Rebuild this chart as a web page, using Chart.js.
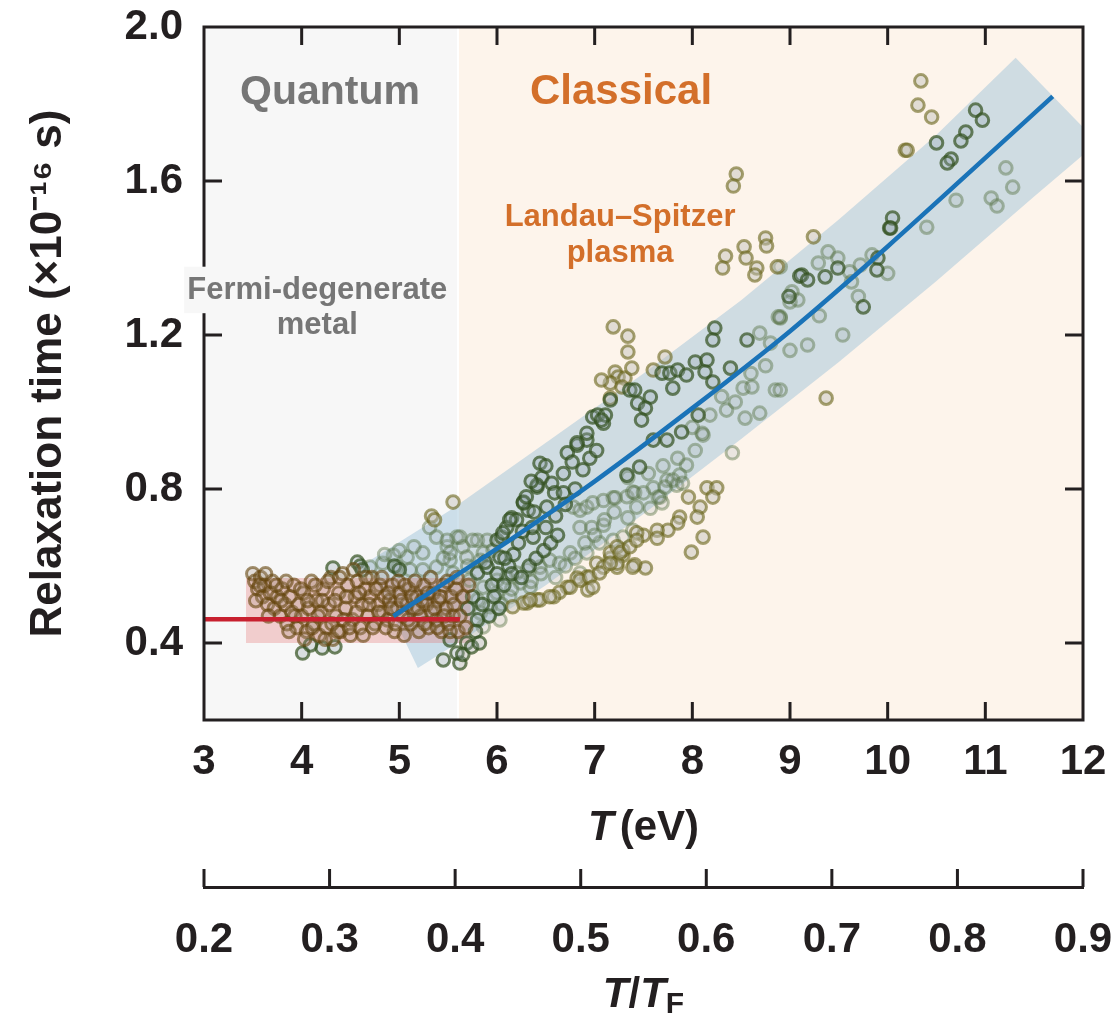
<!DOCTYPE html>
<html>
<head>
<meta charset="utf-8">
<script src="https://cdn.jsdelivr.net/npm/chart.js@4.4.1/dist/chart.umd.min.js"></script>
<style>
  body { margin: 0; background: #ffffff; }
  canvas { display: block; }
</style>
</head>
<body>
<canvas id="myChart" width="1119" height="1022"></canvas>
<script>
const xTicks = [3, 4, 5, 6, 7, 8, 9, 10, 11, 12];
const yTicks = [0.4, 0.8, 1.2, 1.6, 2.0];
const ratioTicks = [0.2, 0.3, 0.4, 0.5, 0.6, 0.7, 0.8, 0.9];
const regionSplit = 5.6;

// left cluster (quantum side)
const brownT = [3.50, 3.52, 3.55, 3.58, 3.60, 3.62, 3.65, 3.68, 3.70, 3.72, 3.75, 3.78, 3.80, 3.83, 3.85, 3.88, 3.90, 3.92, 3.95, 3.97,
  4.00, 4.02, 4.05, 4.07, 4.10, 4.12, 4.15, 4.18, 4.20, 4.22, 4.25, 4.28, 4.30, 4.32, 4.35, 4.38, 4.40, 4.42, 4.45, 4.47,
  4.50, 4.52, 4.55, 4.57, 4.60, 4.62, 4.65, 4.68, 4.70, 4.72, 4.75, 4.78, 4.80, 4.83, 4.85, 4.88, 4.90, 4.93, 4.95, 4.98,
  5.00, 5.03, 5.05, 5.08, 5.10, 5.12, 5.15, 5.18, 5.20, 5.22, 5.25, 5.28, 5.30, 5.33, 5.35, 5.38, 5.40, 5.43, 5.45, 5.48,
  5.50, 5.53, 5.55, 5.58, 5.60,
  3.53, 3.57, 3.63, 3.66, 3.74, 3.79, 3.84, 3.87, 3.93, 3.99, 4.03, 4.06, 4.11, 4.14, 4.17, 4.21, 4.24, 4.27, 4.31, 4.34,
  4.37, 4.39, 4.43, 4.46, 4.49, 4.53, 4.56, 4.59, 4.63, 4.66, 4.69, 4.73, 4.76, 4.79, 4.82, 4.86, 4.89, 4.92, 4.96, 4.99,
  5.02, 5.06, 5.09, 5.13, 5.16, 5.19, 5.23, 5.26, 5.29, 5.32, 5.36, 5.39, 5.42, 5.46, 5.49, 5.52, 5.56, 5.59, 5.62, 5.65,
  5.68, 5.71];
const brownTau = [0.58, 0.56, 0.54, 0.57, 0.52, 0.55, 0.50, 0.53, 0.56, 0.49, 0.52, 0.47, 0.54, 0.50, 0.45, 0.52, 0.48, 0.55, 0.44, 0.50,
  0.47, 0.53, 0.43, 0.49, 0.56, 0.45, 0.51, 0.42, 0.48, 0.54, 0.44, 0.50, 0.57, 0.41, 0.47, 0.53, 0.43, 0.58, 0.49, 0.55,
  0.42, 0.46, 0.52, 0.56, 0.44, 0.50, 0.54, 0.47, 0.52, 0.57, 0.45, 0.50, 0.55, 0.48, 0.52, 0.46, 0.51, 0.55, 0.43, 0.49,
  0.53, 0.47, 0.42, 0.50, 0.54, 0.45, 0.49, 0.52, 0.43, 0.47, 0.55, 0.50, 0.44, 0.48, 0.53, 0.46, 0.51, 0.43, 0.55, 0.49,
  0.45, 0.52, 0.47, 0.54, 0.43,
  0.51, 0.55, 0.58, 0.47, 0.55, 0.51, 0.56, 0.43, 0.47, 0.54, 0.41, 0.51, 0.44, 0.55, 0.47, 0.51, 0.41, 0.56, 0.45, 0.51,
  0.43, 0.57, 0.46, 0.52, 0.44, 0.59, 0.48, 0.53, 0.42, 0.57, 0.50, 0.44, 0.54, 0.48, 0.57, 0.44, 0.53, 0.49, 0.45, 0.56,
  0.51, 0.55, 0.46, 0.52, 0.56, 0.49, 0.51, 0.45, 0.53, 0.57, 0.49, 0.44, 0.52, 0.47, 0.56, 0.43, 0.50, 0.57, 0.47, 0.52,
  0.44, 0.55];

const darkT = [4.01, 4.21, 4.34, 4.09, 4.32, 4.57, 4.60, 4.62, 4.95, 5.00, 5.45, 5.62, 5.59, 5.69, 5.52, 5.65,
  5.80, 5.75, 5.80, 5.90, 6.00, 6.03, 5.85, 5.95, 5.70, 5.78, 5.88, 6.00,
  6.05, 6.10, 6.15, 6.20, 6.27, 6.32, 6.37, 6.36, 6.41, 6.44, 6.46, 6.51, 6.56, 6.59, 6.68, 6.68, 6.72, 6.77, 6.82, 6.92,
  6.82, 6.92, 6.98, 7.09, 7.03, 7.16, 7.36, 6.41, 6.27, 6.13, 6.06,
  7.41, 7.57, 7.44, 7.52, 7.48, 7.11, 7.07, 7.69, 7.77, 7.85, 7.94, 8.03, 8.15, 8.13, 8.21, 7.80, 8.23, 8.21, 8.56, 8.39,
  8.06, 7.89, 7.74, 7.60, 7.46, 7.33,
  9.12, 9.36, 9.49, 9.75, 9.90, 9.89, 10.02, 10.05, 10.03, 9.10, 9.18, 8.99,
  10.50, 10.90, 10.97, 10.80, 10.75, 10.65, 10.61,
  5.92, 5.97, 6.02, 6.07, 6.12, 6.17, 6.22, 6.26, 5.74, 5.82, 6.08, 6.15, 6.25, 6.33, 6.40, 6.48, 6.55, 6.62, 6.50, 6.60,
  6.70, 6.80, 6.88, 6.95, 7.02, 6.30, 6.35, 6.50, 6.38];
const darkTau = [0.374, 0.387, 0.390, 0.395, 0.595, 0.610, 0.600, 0.590, 0.600, 0.590, 0.356, 0.348, 0.374, 0.400, 0.408, 0.370,
  0.582, 0.520, 0.460, 0.597, 0.667, 0.623, 0.500, 0.550, 0.490, 0.430, 0.610, 0.580,
  0.675, 0.700, 0.725, 0.720, 0.766, 0.745, 0.675, 0.700, 0.805, 0.867, 0.830, 0.753, 0.815, 0.790, 0.790, 0.840, 0.894, 0.870, 0.914, 0.927,
  0.920, 0.945, 0.987, 0.971, 0.992, 1.031, 1.057, 0.810, 0.764, 0.720, 0.686,
  1.057, 1.039, 1.023, 1.010, 0.979, 0.992, 0.979, 1.101, 1.101, 1.109, 1.096, 1.130, 1.135, 1.104, 1.078, 1.062, 1.218, 1.187, 1.187, 1.114,
  0.992, 0.948, 0.927, 0.927, 0.857, 0.836,
  1.356, 1.351, 1.374, 1.273, 1.400, 1.369, 1.478, 1.504, 1.478, 1.353, 1.343, 1.300,
  1.699, 1.784, 1.758, 1.727, 1.704, 1.657, 1.647,
  0.470, 0.520, 0.490, 0.550, 0.600, 0.630, 0.660, 0.690, 0.390, 0.400, 0.620, 0.580, 0.570, 0.600, 0.620, 0.640, 0.660, 0.680, 0.700, 0.730,
  0.760, 0.800, 0.850, 0.880, 0.900, 0.780, 0.820, 0.860, 0.740];

const lightT = [5.31, 5.38, 5.59, 5.49, 5.65, 5.24, 5.08, 4.94, 4.83, 4.70, 4.98, 5.11, 5.24, 5.38, 5.52, 5.80, 5.86, 5.49, 5.62, 5.75,
  5.90, 5.52, 5.69, 5.83, 5.96, 5.55, 5.72, 5.86, 6.00, 5.80, 5.93, 6.03, 5.83, 5.86, 6.13, 6.24, 6.34, 5.15, 5.45, 4.85, 5.00, 5.70,
  6.44, 6.54, 6.64, 6.75, 6.85, 6.92, 7.05, 7.19, 7.29, 7.39, 6.31, 6.20, 6.10, 6.00,
  6.78, 6.85, 6.92, 6.98, 7.09, 7.19, 7.33, 7.41, 6.85, 6.97, 7.09, 7.34, 7.34, 7.43, 7.60, 7.74, 7.94, 8.03, 8.11, 7.57,
  7.67, 7.84, 7.65, 7.69, 7.39, 7.21, 7.87, 7.80, 7.72, 7.90,
  8.69, 8.80, 8.90, 8.52, 8.61, 8.85, 8.35, 8.44, 8.54, 8.69, 8.18, 8.41, 9.39, 9.29, 9.49, 9.61, 9.63, 9.72, 9.84, 9.02,
  9.08, 8.90, 8.90, 9.18, 9.54, 8.90, 9.00, 8.88, 11.21, 11.28, 11.06, 11.12, 8.10,
  6.05, 6.15, 6.35, 6.45, 6.60, 6.70, 6.80, 6.90, 7.00, 7.10, 7.20, 7.50, 7.55, 7.70, 7.85, 8.00, 8.30, 8.60, 8.75, 9.00,
  9.30, 9.70, 10.00, 10.40, 10.70];
const lightTau = [0.700, 0.675, 0.675, 0.650, 0.650, 0.634, 0.623, 0.628, 0.607, 0.597, 0.597, 0.590, 0.590, 0.597, 0.615, 0.667, 0.634, 0.667, 0.675, 0.667,
  0.667, 0.634, 0.623, 0.615, 0.641, 0.582, 0.563, 0.545, 0.530, 0.512, 0.494, 0.460, 0.478, 0.442, 0.520, 0.556, 0.545, 0.650, 0.620, 0.630, 0.640, 0.600,
  0.597, 0.615, 0.607, 0.634, 0.582, 0.634, 0.660, 0.667, 0.675, 0.693, 0.590, 0.582, 0.571, 0.563,
  0.753, 0.745, 0.753, 0.764, 0.770, 0.777, 0.780, 0.790, 0.700, 0.700, 0.706, 0.830, 0.725, 0.753, 0.803, 0.823, 0.862, 0.900, 0.940, 0.750,
  0.779, 0.810, 0.779, 0.764, 0.792, 0.777, 0.836, 0.823, 0.805, 0.815,
  1.205, 1.179, 1.247, 1.062, 1.065, 1.057, 1.005, 1.026, 0.984, 0.997, 0.992, 0.894, 1.416, 1.387, 1.400, 1.364, 1.338, 1.382, 1.408, 1.312,
  1.291, 1.377, 1.244, 1.174, 1.200, 1.057, 1.286, 1.247, 1.634, 1.584, 1.556, 1.535, 0.945,
  0.500, 0.540, 0.560, 0.580, 0.570, 0.600, 0.620, 0.660, 0.680, 0.720, 0.740, 0.790, 0.840, 0.860, 0.880, 0.960, 1.040, 1.100, 1.120, 1.160,
  1.250, 1.300, 1.360, 1.480, 1.550];

const oliveT = [7.19, 7.34, 7.34, 7.21, 7.24, 7.31, 7.16, 7.28, 7.38, 7.16, 7.07, 7.72, 7.60,
  8.45, 8.42, 8.75, 8.76, 8.53, 8.55, 8.34, 8.31, 8.66, 8.64, 8.87, 9.24, 10.34, 10.31, 10.45, 10.18, 10.20, 9.37,
  8.15, 8.25, 8.21, 8.08, 8.05, 7.96, 7.87, 7.85, 7.75, 7.64, 7.64, 7.50, 7.43, 8.11, 7.99, 7.52, 7.41, 7.23, 7.16, 7.29,
  7.29, 7.16, 7.02, 6.92, 6.82, 6.72, 6.64, 6.58, 6.41, 6.31, 6.93, 7.09, 7.23, 7.23, 6.44, 6.54, 6.75, 6.85, 6.95, 7.05,
  7.16, 7.26, 7.36, 7.43, 6.27, 6.34, 6.16, 7.39, 6.98, 5.55, 5.33, 5.36];
const oliveTau = [1.221, 1.197, 1.156, 1.104, 1.091, 1.088, 1.075, 1.065, 1.114, 1.036, 1.083, 1.143, 1.109,
  1.618, 1.587, 1.452, 1.431, 1.429, 1.400, 1.405, 1.374, 1.374, 1.356, 1.377, 1.455, 1.860, 1.797, 1.766, 1.680, 1.680, 1.036,
  0.803, 0.803, 0.779, 0.753, 0.727, 0.779, 0.727, 0.712, 0.693, 0.693, 0.672, 0.680, 0.686, 0.675, 0.636, 0.595, 0.603, 0.597, 0.620, 0.628,
  0.641, 0.634, 0.607, 0.571, 0.569, 0.545, 0.532, 0.520, 0.512, 0.504, 0.538, 0.597, 0.607, 0.650, 0.512, 0.520, 0.545, 0.563, 0.571, 0.582,
  0.607, 0.634, 0.650, 0.667, 0.504, 0.512, 0.494, 0.597, 0.545, 0.766, 0.730, 0.720];

// Landau-Spitzer fit and its uncertainty band
const fitT = [4.94, 6.0, 7.0, 8.0, 9.0, 10.0, 11.0, 11.69];
const fitTau = [0.470, 0.645, 0.820, 1.010, 1.210, 1.430, 1.660, 1.820];
const bandUpperT = [4.67, 5.52, 6.5, 7.5, 8.5, 9.5, 10.5, 11.31];
const bandUpperTau = [0.610, 0.745, 0.920, 1.100, 1.290, 1.500, 1.720, 1.920];
const bandLowerT = [5.19, 5.75, 6.5, 7.5, 8.5, 9.5, 10.5, 11.5, 12.15];
const bandLowerTau = [0.335, 0.425, 0.550, 0.735, 0.930, 1.130, 1.340, 1.560, 1.700];

// degenerate-metal constant and its band
const metalT = [3.0, 5.62];
const metalTau = [0.462, 0.462];
const metalBandT = [3.43, 5.73];
const metalBandTau = [0.400, 0.569];

const pts = (xs, ys) => xs.map((v, i) => ({x: v, y: ys[i]}));

const bandPoly = pts(bandUpperT, bandUpperTau).concat(pts(bandLowerT, bandLowerTau).reverse());
const metalPoly = [
  {x: metalBandT[0], y: metalBandTau[0]}, {x: metalBandT[1], y: metalBandTau[0]},
  {x: metalBandT[1], y: metalBandTau[1]}, {x: metalBandT[0], y: metalBandTau[1]}
];

const FONT = "'Liberation Sans', Arial, Helvetica, sans-serif";
const INK = '#231f20';
const GRAY = '#767676';
const ORANGE = '#d36f2a';

const notes = [
  {text: 'Quantum', x: 4.29, y: 1.83, size: 41, color: GRAY},
  {text: 'Classical', x: 7.27, y: 1.83, size: 42, color: ORANGE},
  {text: 'Landau\u2013Spitzer', x: 7.26, y: 1.506, size: 31, color: ORANGE},
  {text: 'plasma', x: 7.26, y: 1.413, size: 31, color: ORANGE},
  {text: 'Fermi-degenerate', x: 4.16, y: 1.317, size: 31, color: GRAY, box: '#f7f7f7'},
  {text: 'metal', x: 4.16, y: 1.226, size: 31, color: GRAY}
];

function drawParts(ctx, parts, cx, cy) {
  let w = 0;
  parts.forEach(p => { ctx.font = p.font; w += ctx.measureText(p.t).width + (p.gap || 0); });
  let x = cx - w / 2;
  ctx.textAlign = 'left';
  ctx.textBaseline = 'middle';
  parts.forEach(p => {
    ctx.font = p.font;
    ctx.fillText(p.t, x, cy + (p.dy || 0));
    x += ctx.measureText(p.t).width + (p.gap || 0);
  });
}

const decor = {
  id: 'decor',
  beforeDatasetsDraw(chart) {
    const {ctx, chartArea: a, scales: {x}} = chart;
    const s = x.getPixelForValue(regionSplit);
    ctx.save();
    ctx.fillStyle = '#f7f7f7';
    ctx.fillRect(a.left, a.top, s - a.left, a.bottom - a.top);
    ctx.fillStyle = '#fdf4eb';
    ctx.fillRect(s, a.top, a.right - s, a.bottom - a.top);
    ctx.strokeStyle = '#ffffff';
    ctx.lineWidth = 2;
    ctx.beginPath();
    ctx.moveTo(s, a.top);
    ctx.lineTo(s, a.bottom);
    ctx.stroke();
    ctx.restore();
  },
  afterDatasetsDraw(chart) {
    const {ctx, chartArea: a, scales: {x, y, x2}} = chart;
    const tl = 18;
    ctx.save();
    ctx.strokeStyle = INK;
    ctx.lineWidth = 3;
    ctx.strokeRect(a.left, a.top, a.right - a.left, a.bottom - a.top);
    ctx.beginPath();
    xTicks.slice(1, -1).forEach(v => {
      const px = x.getPixelForValue(v);
      ctx.moveTo(px, a.bottom); ctx.lineTo(px, a.bottom - tl);
      ctx.moveTo(px, a.top); ctx.lineTo(px, a.top + tl);
    });
    yTicks.filter(v => v < 2).forEach(v => {
      const py = y.getPixelForValue(v);
      ctx.moveTo(a.left, py); ctx.lineTo(a.left + tl, py);
      ctx.moveTo(a.right, py); ctx.lineTo(a.right - tl, py);
    });
    ratioTicks.forEach(v => {
      const px = x2.getPixelForValue(v);
      ctx.moveTo(px, x2.top); ctx.lineTo(px, x2.top - tl);
    });
    ctx.stroke();

    notes.forEach(n => {
      const px = x.getPixelForValue(n.x);
      const py = y.getPixelForValue(n.y);
      ctx.font = 'bold ' + n.size + 'px ' + FONT;
      if (n.box) {
        const w = ctx.measureText(n.text).width;
        ctx.fillStyle = n.box;
        ctx.fillRect(px - w / 2 - 3, py - n.size * 0.75, w + 6, n.size * 1.5);
      }
      ctx.fillStyle = n.color;
      ctx.textAlign = 'center';
      ctx.textBaseline = 'middle';
      ctx.fillText(n.text, px, py);
    });

    ctx.fillStyle = INK;
    const cx = (a.left + a.right) / 2;
    const it = 'italic bold 42px ' + FONT;
    const up = 'bold 42px ' + FONT;
    drawParts(ctx, [{t: 'T', font: it, gap: 6}, {t: '(eV)', font: up}], cx, x.top + 108);
    drawParts(ctx, [{t: 'T', font: it}, {t: '/', font: up}, {t: 'T', font: it}, {t: 'F', font: 'bold 30px ' + FONT, dy: 10}], cx, x2.top + 108);
    ctx.restore();
  }
};

const circle = (data, border, fill, order) => ({
  type: 'scatter',
  data: data,
  pointRadius: 6.3,
  pointBorderWidth: 3,
  borderColor: border,
  backgroundColor: fill,
  order: order
});

const noPadX = s => { s.paddingLeft = 0; s.paddingRight = 0; };

const ctx = document.getElementById('myChart').getContext('2d');
const myChart = new Chart(ctx, {
  type: 'scatter',
  data: {
    datasets: [
      {type: 'line', data: pts(fitT, fitTau), borderColor: '#1a73b8', borderWidth: 4.5,
        pointRadius: 0, tension: 0.4, cubicInterpolationMode: 'monotone', fill: false, order: 1},
      {type: 'line', data: pts(metalT, metalTau), borderColor: '#c8202f', borderWidth: 4.5,
        pointRadius: 0, fill: false, order: 2},
      circle(pts(lightT, lightTau), 'rgba(80,110,60,0.42)', 'rgba(160,170,175,0.2)', 6),
      circle(pts(oliveT, oliveTau), 'rgba(105,100,25,0.6)', 'rgba(190,190,185,0.45)', 5),
      circle(pts(darkT, darkTau), 'rgba(50,80,30,0.7)', 'rgba(150,165,175,0.3)', 4),
      circle(pts(brownT, brownTau), 'rgba(100,68,12,0.6)', 'rgba(160,140,120,0.25)', 3),
      {type: 'line', data: metalPoly, borderWidth: 0, borderColor: 'rgba(0,0,0,0)', pointRadius: 0,
        backgroundColor: 'rgba(230,110,110,0.3)', fill: 'shape', order: 7},
      {type: 'line', data: bandPoly, borderWidth: 0, borderColor: 'rgba(0,0,0,0)', pointRadius: 0,
        backgroundColor: 'rgba(150,190,215,0.45)', fill: 'shape', order: 8}
    ]
  },
  options: {
    responsive: false,
    animation: false,
    devicePixelRatio: 1,
    layout: {padding: {top: 27, right: 36, left: 0, bottom: 0}},
    plugins: {legend: {display: false}, tooltip: {enabled: false}},
    scales: {
      x: {
        type: 'linear', position: 'bottom', min: 3, max: 12, weight: 0,
        afterBuildTicks: s => { s.ticks = xTicks.map(v => ({value: v})); },
        afterFit: s => { s.height = 167; noPadX(s); },
        grid: {display: false, drawTicks: false},
        border: {display: false},
        ticks: {padding: 17, color: INK, font: {family: FONT, size: 42, weight: 'bold'}, callback: v => String(v)}
      },
      x2: {
        type: 'linear', position: 'bottom', min: 0.2, max: 0.9, weight: 1,
        afterBuildTicks: s => { s.ticks = ratioTicks.map(v => ({value: v})); },
        afterFit: s => { s.height = 135; noPadX(s); },
        grid: {display: false, drawTicks: false},
        border: {display: true, width: 3, color: INK},
        ticks: {padding: 28, color: INK, font: {family: FONT, size: 42, weight: 'bold'}, callback: v => v.toFixed(1)}
      },
      y: {
        type: 'linear', position: 'left', min: 0.2, max: 2.0,
        afterBuildTicks: s => { s.ticks = yTicks.map(v => ({value: v})); },
        afterFit: s => { s.width = 204; s.paddingTop = 0; s.paddingBottom = 0; },
        grid: {display: false, drawTicks: false},
        border: {display: false},
        ticks: {padding: 21, color: INK, font: {family: FONT, size: 42, weight: 'bold'}, callback: v => v.toFixed(1)},
        title: {display: true, text: 'Relaxation time (\u00d710\u207b\u00b9\u2076 s)', color: INK,
          font: {family: FONT, size: 44, weight: 'bold'}, padding: {top: 22, bottom: 0}}
      }
    }
  },
  plugins: [decor]
});
</script>
</body>
</html>
